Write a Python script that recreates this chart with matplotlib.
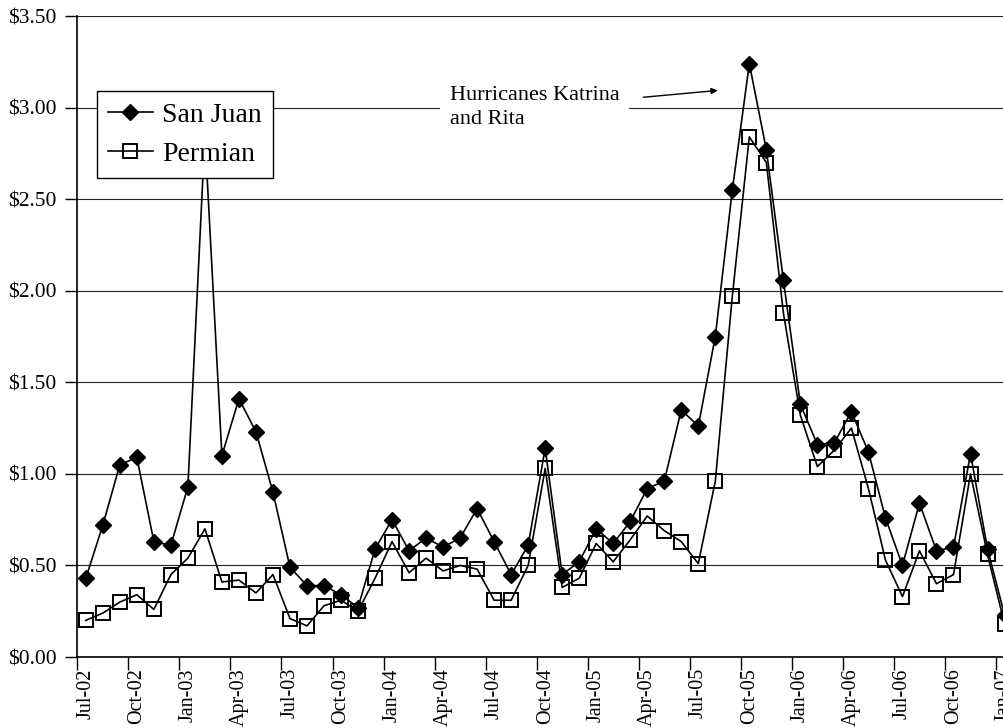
import matplotlib
matplotlib.use("Agg")
import matplotlib.pyplot as plt
from matplotlib.ticker import FixedLocator, FuncFormatter
import numpy as np
import pandas as pd

plt.rcParams["font.family"] = ["Liberation Serif", "DejaVu Serif"]

# monthly categories Jul-02 .. Jan-07
months = list(pd.date_range("2002-07-01", periods=55, freq="MS").strftime("%b-%y"))

san_juan = [
    0.43, 0.72, 1.05, 1.09, 0.63, 0.61, 0.93, 2.85, 1.10, 1.41, 1.23, 0.90,
    0.49, 0.39, 0.39, 0.34, 0.27, 0.59, 0.75, 0.58, 0.65, 0.60, 0.65, 0.81,
    0.63, 0.45, 0.61, 1.14, 0.45, 0.52, 0.70, 0.62, 0.74, 0.92, 0.96, 1.35,
    1.26, 1.75, 2.55, 3.24, 2.77, 2.06, 1.38, 1.16, 1.17, 1.34, 1.12, 0.76,
    0.50, 0.84, 0.58, 0.60, 1.11, 0.59, 0.23,
]
permian = [
    0.20, 0.24, 0.30, 0.34, 0.26, 0.45, 0.54, 0.70, 0.41, 0.42, 0.35, 0.45,
    0.21, 0.17, 0.28, 0.31, 0.25, 0.43, 0.63, 0.46, 0.54, 0.47, 0.50, 0.48,
    0.31, 0.31, 0.50, 1.03, 0.38, 0.43, 0.62, 0.52, 0.64, 0.77, 0.69, 0.63,
    0.51, 0.96, 1.97, 2.84, 2.70, 1.88, 1.32, 1.04, 1.13, 1.25, 0.92, 0.53,
    0.33, 0.58, 0.40, 0.45, 1.00, 0.56, 0.18,
]

x = np.arange(len(months))

fig = plt.figure(figsize=(10.04, 7.28), dpi=100)
ax = fig.add_axes([0.077, 0.0975, 0.932, 0.8805])

ax.plot(x, permian, color="black", lw=1.2, marker="s", ms=10,
        mfc="none", mec="black", mew=1.4, label="Permian", zorder=3)
ax.plot(x, san_juan, color="black", lw=1.2, marker="D", ms=8.5,
        mfc="black", mec="black", label="San Juan", zorder=4)

ax.set_xlim(-0.5, len(months) - 0.5)
ax.set_ylim(0, 3.5)

# y axis
ax.set_yticks(np.arange(0, 3.51, 0.5))
ax.yaxis.set_major_formatter(FuncFormatter(lambda v, p: f"${v:.2f}"))
ax.grid(axis="y", color="#222222", lw=0.8, zorder=1)
ax.tick_params(axis="y", direction="out", length=9, width=1, labelsize=15.5, pad=6)

# x axis: labels every 3 months, tick marks on category boundaries
lab_idx = x[::3]
ax.xaxis.set_major_locator(FixedLocator(lab_idx))
ax.set_xticklabels([months[i] for i in lab_idx], rotation=90, fontsize=14.5)
ax.xaxis.set_minor_locator(FixedLocator(lab_idx - 0.5))
ax.tick_params(axis="x", which="major", length=0, pad=8)
ax.tick_params(axis="x", which="minor", direction="out", length=9, width=1)

for s in ["top", "right"]:
    ax.spines[s].set_visible(False)
for s in ["left", "bottom"]:
    ax.spines[s].set_linewidth(1.2)

# annotation
ax.text(21.4, 3.0, "Hurricanes Katrina\nand Rita", fontsize=16, ha="left",
        va="center", linespacing=1.35, zorder=5,
        bbox=dict(facecolor="white", edgecolor="none", pad=7))
ax.annotate("", xy=(37.3, 3.095), xytext=(32.6, 3.055),
            arrowprops=dict(arrowstyle="-|>", color="black", lw=1,
                            mutation_scale=9), zorder=5)

handles, labels = ax.get_legend_handles_labels()
leg = ax.legend(handles[::-1], labels[::-1], loc="upper left",
                bbox_to_anchor=(0.0966, 0.875), bbox_transform=fig.transFigure,
                fontsize=20, frameon=True, fancybox=False, framealpha=1,
                edgecolor="black", borderaxespad=0, borderpad=0.4,
                handlelength=1.6, handletextpad=0.35, labelspacing=0.5)
leg.get_frame().set_linewidth(1)
leg.set_zorder(10)

fig.savefig("out.png", dpi=100)
